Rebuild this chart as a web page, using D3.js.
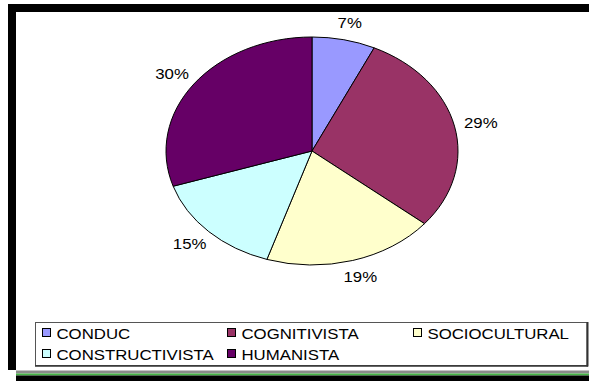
<!DOCTYPE html>
<html>
<head>
<meta charset="utf-8">
<script src="https://cdn.jsdelivr.net/npm/d3@7"></script>
<style>
  html, body { margin: 0; padding: 0; background: #fff; }
  svg { display: block; }
  text { font-family: "Liberation Sans", Arial, sans-serif; fill: #000; }
</style>
</head>
<body>
<svg id="chart" width="589" height="381"></svg>
<script>
// Share of each approach (percent)
const categories = ["CONDUC", "COGNITIVISTA", "SOCIOCULTURAL", "CONSTRUCTIVISTA", "HUMANISTA"];
const values = [7, 29, 19, 15, 30];
const colors = ["#9999FF", "#993366", "#FFFFCC", "#CCFFFF", "#660066"];

const svg = d3.select("#chart");
const W = 589, H = 381;

// Outer frame: heavy black top and left edges, gray/green/black strip at the bottom
svg.append("rect").attr("x", 8).attr("y", 4).attr("width", W - 8).attr("height", 8).attr("fill", "#000");
svg.append("rect").attr("x", 8).attr("y", 4).attr("width", 8).attr("height", 366).attr("fill", "#000");
svg.append("rect").attr("x", 16).attr("y", 370.5).attr("width", W - 16).attr("height", 3).attr("fill", "#8a8a8a");
svg.append("rect").attr("x", 16).attr("y", 373.5).attr("width", W - 16).attr("height", 2).attr("fill", "#44b444");
svg.append("rect").attr("x", 16).attr("y", 375.5).attr("width", W - 16).attr("height", H - 375.5).attr("fill", "#000");

// Elliptical pie: circular arcs squashed vertically
const cx = 312, cy = 151, rx = 146, ry = 114;
const pie = d3.pie().sort(null).value(d => d)(values);
const arc = d3.arc().innerRadius(0).outerRadius(rx);

const pieG = svg.append("g")
  .attr("transform", `translate(${cx},${cy}) scale(1,${ry / rx})`);

pieG.selectAll("path")
  .data(pie)
  .join("path")
  .attr("d", arc)
  .attr("fill", (d, i) => colors[i])
  .attr("stroke", "#000")
  .attr("stroke-width", 1)
  .attr("vector-effect", "non-scaling-stroke")
  .attr("stroke-linejoin", "round");

// Percentage labels outside each slice
const fs = 15, sx = 1.12;
const ox = 27, oy = 17;
svg.append("g").selectAll("text")
  .data(pie)
  .join("text")
  .attr("transform", d => {
    const a = (d.startAngle + d.endAngle) / 2;
    const x = cx + (rx + ox) * Math.sin(a);
    const y = cy - (ry + oy) * Math.cos(a);
    return `translate(${x},${y}) scale(${sx},1)`;
  })
  .attr("text-anchor", "middle")
  .attr("dominant-baseline", "central")
  .attr("font-size", fs)
  .text(d => d.data + "%");

// Legend
const lg = svg.append("g");
lg.append("rect")
  .attr("x", 35.5).attr("y", 322.5).attr("width", 551.5).attr("height", 43)
  .attr("fill", "#fff").attr("stroke", "#555").attr("stroke-width", 1);
lg.append("line").attr("x1", 587.5).attr("x2", 587.5).attr("y1", 322).attr("y2", 366.5)
  .attr("stroke", "#333").attr("stroke-width", 2);
lg.append("line").attr("x1", 35).attr("x2", 588).attr("y1", 366).attr("y2", 366)
  .attr("stroke", "#333").attr("stroke-width", 1.5);

const colX = [42, 227, 413];
const rowY = [333, 354];
categories.forEach((c, i) => {
  const col = i < 3 ? i : i - 3;
  const row = i < 3 ? 0 : 1;
  const x = colX[col], y = rowY[row];
  lg.append("rect")
    .attr("x", x + 0.5).attr("y", y - 4.5).attr("width", 8).attr("height", 8)
    .attr("fill", colors[i]).attr("stroke", "#000").attr("stroke-width", 1);
  lg.append("text")
    .attr("transform", `translate(${x + 14.5},${y + 5.5}) scale(${sx},1)`)
    .attr("font-size", fs)
    .text(c);
});
</script>
</body>
</html>
